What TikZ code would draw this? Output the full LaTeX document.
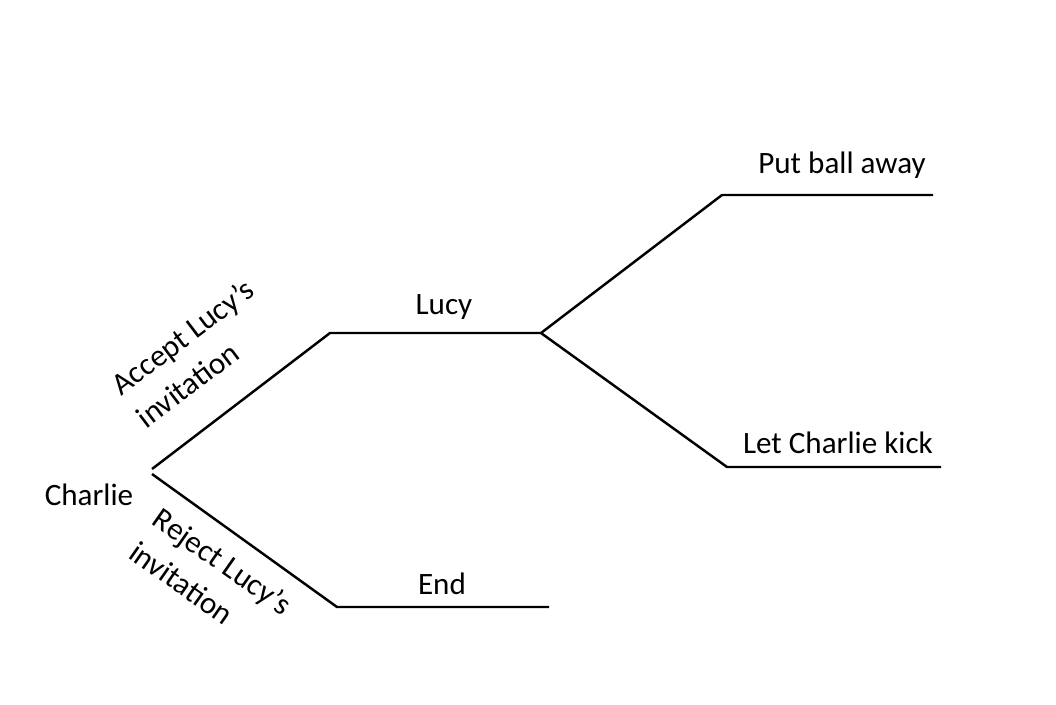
\documentclass[tikz,border=0pt]{standalone}
\usepackage{fontspec}
\setmainfont{Carlito}
\usetikzlibrary{positioning,calc}
\tikzstyle{lbl} = [anchor=base,inner sep=0]
\tikzstyle{move} = [align=left,inner sep=0,font=\fontsize{17.7}{23.5}\selectfont]

\begin{document}
\begin{tikzpicture}[
    x=0.02cm,
    y=-0.02cm,
    line width=1.4pt,
    every node/.style={font=\fontsize{17.7}{22}\selectfont}
]
   \useasboundingbox (0,0) rectangle (1056,704);

   % branch points
   \coordinate (C0) at (152,469);
   \coordinate (C1) at (152,474);
   \coordinate (L0) at (330,333);
   \coordinate (L1) at (541,333);
   \coordinate (P0) at (722,195);
   \coordinate (P1) at (933,195);
   \coordinate (K0) at (727,467);
   \coordinate (K1) at (941,467);
   \coordinate (E0) at (337,607);
   \coordinate (E1) at (549,607);

   \draw (C0) -- (L0) -- (L1) -- (P0) -- (P1);
   \draw (L1) -- (K0) -- (K1);
   \draw (C1) -- (E0) -- (E1);

   \node [lbl] (charlie) at (89,505)  {Charlie};
   \node [lbl] (lucy)    at (444,314) {Lucy};
   \node [lbl] (putaway) at (842,173) {Put ball away};
   \node [lbl] (kick)    at (838,453) {Let Charlie kick};
   \node [lbl] (theend)  at (442,594) {End};

   \node [move,rotate=37]  (accept) at (195,353) {Accept Lucy’s\\invitation};
   \node [move,rotate=-35] (reject) at (211,578) {Reject Lucy’s\\invitation};
\end{tikzpicture}
\end{document}
